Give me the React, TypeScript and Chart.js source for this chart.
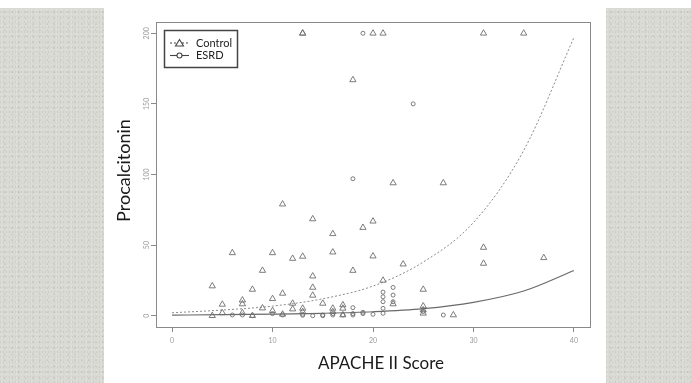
import React, { useEffect, useRef } from "react";
import { Chart, registerables } from "chart.js";

Chart.register(...registerables);

// Axis ticks
const xTicks = [0, 10, 20, 30, 40];
const yTicks = [0, 50, 100, 150, 200];

// Control group (triangles)
const controlX = [4, 4, 5, 5, 6, 7, 7, 7, 8, 8, 9, 9, 10, 10, 10, 11, 11, 11, 12, 12, 12, 13, 13, 13, 13, 13, 14, 14, 14, 14, 15, 16, 16, 16, 16, 17, 17, 17, 18, 18, 19, 20, 20, 20, 21, 21, 22, 22, 23, 25, 25, 25, 25, 27, 28, 31, 31, 31, 35, 37];
const controlY = [21, 0, 8, 2, 44.5, 11, 8.3, 2, 18.6, 0, 32, 5.4, 44.5, 12, 3.5, 79, 15.8, 1, 40.5, 8.7, 4.7, 200, 200, 42, 5.2, 2.8, 68.5, 28, 20, 14.4, 8.7, 58, 45, 5.2, 2.8, 7.6, 5.2, 0.5, 167, 32, 62.4, 200, 66.9, 42.2, 200, 25, 94, 8.3, 36.5, 18.6, 6.8, 4, 1.7, 94, 0.5, 200, 48.3, 37, 200, 41];

// ESRD group (circles)
const esrdX = [6, 7, 8, 10, 11, 13, 13, 14, 15, 15, 16, 16, 17, 18, 18, 18, 18, 19, 19, 19, 20, 21, 21, 21, 21, 21, 22, 22, 22, 24, 25, 27];
const esrdY = [0.5, 0.5, 0, 1.5, 0.5, 0.3, 1, 0, 0.5, 0, 0.5, 1.5, 0.5, 0.5, 1.5, 5.7, 97, 200, 2.4, 1.5, 1, 16.7, 13.4, 9.9, 5.2, 1.7, 20, 14.6, 9.9, 150, 3, 0.5];

// Fitted curves
const curveX = [0, 5, 10, 15, 20, 25, 30, 35, 40];
const controlFit = [2.1, 4, 6.8, 12, 21, 38, 66, 117, 197];
const esrdFit = [0.4, 0.7, 1.1, 1.7, 2.8, 5, 9.5, 17.5, 32];

const FONT = "Lato, 'Open Sans', sans-serif";

const decorPlugin = {
  id: "decor",
  afterDraw(chart: any) {
    const ctx = chart.ctx as CanvasRenderingContext2D;
    const a = chart.chartArea;
    const ys = chart.scales.y;
    ctx.save();
    // plot box
    ctx.strokeStyle = "#8a8a8a";
    ctx.lineWidth = 1;
    ctx.strokeRect(a.left + 0.5, a.top + 0.5, a.right - a.left, a.bottom - a.top);
    // y tick labels, R-style vertical
    ctx.fillStyle = "#9a9a9a";
    ctx.font = `7px ${FONT}`;
    ctx.textAlign = "center";
    ctx.textBaseline = "middle";
    ys.ticks.forEach((t: any) => {
      const py = ys.getPixelForValue(t.value);
      ctx.save();
      ctx.translate(a.left - 9, py);
      ctx.rotate(-Math.PI / 2);
      ctx.fillText(String(t.value), 0, 0);
      ctx.restore();
    });
    // axis titles
    ctx.fillStyle = "#1a1a1a";
    ctx.font = `18px ${FONT}`;
    ctx.save();
    ctx.translate(124, (a.top + a.bottom) / 2 - 4);
    ctx.rotate(-Math.PI / 2);
    ctx.fillText("Procalcitonin", 0, 0);
    ctx.restore();
    ctx.font = `17px ${FONT}`;
    ctx.fillText("APACHE II Score", 381, 364);
    // legend
    const ds = chart.data.datasets;
    ctx.strokeStyle = "#444";
    ctx.lineWidth = 1.5;
    ctx.strokeRect(164.5, 30.5, 73, 37);
    const rows = [
      { y: 43, d: ds[0] },
      { y: 55.5, d: ds[1] },
    ];
    rows.forEach((r) => {
      ctx.strokeStyle = "#444";
      ctx.lineWidth = 1.1;
      ctx.setLineDash(r.d.legendDash || []);
      ctx.beginPath();
      ctx.moveTo(170, r.y);
      ctx.lineTo(189, r.y);
      ctx.stroke();
      ctx.setLineDash([]);
      ctx.fillStyle = "#fff";
      ctx.beginPath();
      if (r.d.pointStyle === "triangle") {
        ctx.moveTo(179.5, r.y - 3.5);
        ctx.lineTo(183.5, r.y + 3);
        ctx.lineTo(175.5, r.y + 3);
        ctx.closePath();
      } else {
        ctx.arc(179.5, r.y, 2.5, 0, Math.PI * 2);
      }
      ctx.fill();
      ctx.stroke();
      ctx.fillStyle = "#222";
      ctx.font = `11px ${FONT}`;
      ctx.textAlign = "left";
      ctx.textBaseline = "middle";
      ctx.fillText(r.d.label, 196, r.y);
    });
    ctx.restore();
  },
};

export default function App() {
  const ref = useRef<HTMLCanvasElement | null>(null);
  useEffect(() => {
    if (!ref.current) return;
    const chart = new Chart(ref.current, {
      type: "scatter",
      data: {
        datasets: [
          {
            label: "Control",
            data: controlX.map((x, i) => ({ x, y: controlY[i] })),
            pointStyle: "triangle",
            pointRadius: 3.6,
            borderColor: "#6e6e6e",
            backgroundColor: "rgba(255,255,255,0)",
            borderWidth: 0.9,
            showLine: false,
            legendDash: [2, 2],
          } as any,
          {
            label: "ESRD",
            data: esrdX.map((x, i) => ({ x, y: esrdY[i] })),
            pointStyle: "circle",
            pointRadius: 2,
            borderColor: "#6e6e6e",
            backgroundColor: "rgba(255,255,255,0)",
            borderWidth: 0.9,
            showLine: false,
            legendDash: [],
          } as any,
          {
            label: "Control fit",
            data: curveX.map((x, i) => ({ x, y: controlFit[i] })),
            showLine: true,
            pointRadius: 0,
            borderColor: "#8a8a8a",
            borderWidth: 1,
            borderDash: [2, 2],
            cubicInterpolationMode: "monotone",
            fill: false,
          } as any,
          {
            label: "ESRD fit",
            data: curveX.map((x, i) => ({ x, y: esrdFit[i] })),
            showLine: true,
            pointRadius: 0,
            borderColor: "#6a6a6a",
            borderWidth: 1.2,
            cubicInterpolationMode: "monotone",
            fill: false,
          } as any,
        ],
      },
      options: {
        animation: false,
        responsive: false,
        maintainAspectRatio: false,
        layout: { padding: { left: 0, right: 101, top: 22, bottom: 0 } },
        plugins: { legend: { display: false }, tooltip: { enabled: false } },
        scales: {
          x: {
            type: "linear",
            min: -1.6,
            max: 41.6,
            afterBuildTicks: (s: any) => {
              s.ticks = xTicks.map((v) => ({ value: v }));
            },
            afterFit: (s: any) => {
              s.height = 56;
            },
            grid: { drawOnChartArea: false, drawTicks: true, tickLength: 5, color: "#8a8a8a" },
            border: { display: false },
            ticks: {
              font: { size: 7, family: FONT },
              color: "#9a9a9a",
              padding: 5,
              autoSkip: false,
              maxRotation: 0,
            },
          },
          y: {
            type: "linear",
            min: -8,
            max: 208,
            afterBuildTicks: (s: any) => {
              s.ticks = yTicks.map((v) => ({ value: v }));
            },
            afterFit: (s: any) => {
              s.width = 156;
            },
            grid: { drawOnChartArea: false, drawTicks: true, tickLength: 5, color: "#8a8a8a" },
            border: { display: false },
            ticks: { display: false },
          },
        },
      } as any,
      plugins: [decorPlugin],
    });
    return () => chart.destroy();
  }, []);

  const tex: React.CSSProperties = {
    position: "absolute",
    top: 8,
    bottom: 0,
    backgroundColor: "#dadad5",
    backgroundImage:
      "radial-gradient(circle at 30% 40%, rgba(255,255,255,0.25) 0.7px, transparent 1.1px), radial-gradient(circle at 70% 70%, rgba(140,140,130,0.18) 0.7px, transparent 1.2px), radial-gradient(circle at 20% 80%, rgba(120,120,110,0.12) 0.6px, transparent 1px)",
    backgroundSize: "5px 4px, 7px 6px, 3px 5px",
  };

  return (
    <div style={{ position: "fixed", left: 0, top: 0, width: 691, height: 383, background: "#fff", overflow: "hidden" }}>
      <div style={{ ...tex, left: 0, width: 104 }} />
      <div style={{ ...tex, left: 606, width: 85 }} />
      <canvas ref={ref} width={691} height={383} style={{ position: "absolute", left: 0, top: 0, width: 691, height: 383 }} />
    </div>
  );
}
